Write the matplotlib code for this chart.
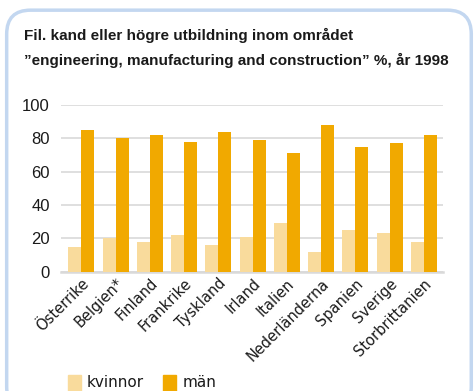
import matplotlib.pyplot as plt
import numpy as np
from matplotlib.patches import FancyBboxPatch, Rectangle

# Data
countries = ["Österrike", "Belgien*", "Finland", "Frankrike", "Tyskland", "Irland",
             "Italien", "Nederländerna", "Spanien", "Sverige", "Storbrittanien"]
kvinnor = [15, 20.4, 17.8, 22, 16.2, 20.8, 29.2, 11.8, 25, 23.2, 17.8]
man = [85, 80.2, 82, 77.8, 83.8, 79, 71.2, 88, 74.8, 77.2, 82]

c_k = "#F9DB9C"
c_m = "#F1A900"
narrow = ["Liberation Sans Narrow", "Liberation Sans", "DejaVu Sans"]

fig = plt.figure(figsize=(4.77, 3.91), dpi=100)

# rounded frame
frame = FancyBboxPatch((0.014, -0.05), 0.974, 1.024, boxstyle="round,pad=0,rounding_size=0.05",
                       transform=fig.transFigure, fill=False, edgecolor="#C3D7F0",
                       linewidth=2.5, mutation_aspect=477 / 391)
fig.patches.append(frame)

fig.text(0.05, 0.91, "Fil. kand eller högre utbildning inom området", fontsize=11,
         fontweight="bold", family=narrow, color="#1a1a1a", va="center")
fig.text(0.05, 0.845, "\u201dengineering, manufacturing and construction\u201d %, år 1998", fontsize=11,
         fontweight="bold", family=narrow, color="#1a1a1a", va="center")

ax = fig.add_axes([0.128, 0.305, 0.801, 0.426])
x = np.arange(len(countries))
w = 0.38
ax.bar(x - w / 2, kvinnor, w, color=c_k, zorder=3)
ax.bar(x + w / 2, man, w, color=c_m, zorder=3)

ax.set_xlim(-0.59, 10.56)
ax.set_ylim(0, 100)
ax.set_yticks([0, 20, 40, 60, 80, 100])
ax.yaxis.grid(True, color="#D9D9D9", linewidth=1.2, zorder=0)
for s in ["top", "right", "left"]:
    ax.spines[s].set_visible(False)
ax.spines["bottom"].set_color("#D9D9D9")
ax.spines["bottom"].set_linewidth(1.8)
ax.tick_params(axis="both", length=0)
ax.tick_params(axis="y", pad=8)
for lab in ax.get_yticklabels():
    lab.set_fontfamily(narrow)
    lab.set_fontsize(12)
    lab.set_color("#1a1a1a")
ax.set_xticks(x)
ax.set_xticklabels(countries, rotation=45, ha="right", rotation_mode="anchor",
                   fontsize=10.5, family="DejaVu Sans", color="#1a1a1a")
ax.tick_params(axis="x", pad=3)

# legend
fig.patches.append(Rectangle((0.142, 0.0), 0.027, 0.042, transform=fig.transFigure, color=c_k))
fig.text(0.182, 0.022, "kvinnor", fontsize=11, family="DejaVu Sans", va="center", color="#1a1a1a")
fig.patches.append(Rectangle((0.342, 0.0), 0.027, 0.042, transform=fig.transFigure, color=c_m))
fig.text(0.382, 0.022, "män", fontsize=11, family="DejaVu Sans", va="center", color="#1a1a1a")

fig.savefig("out.png", dpi=100)
